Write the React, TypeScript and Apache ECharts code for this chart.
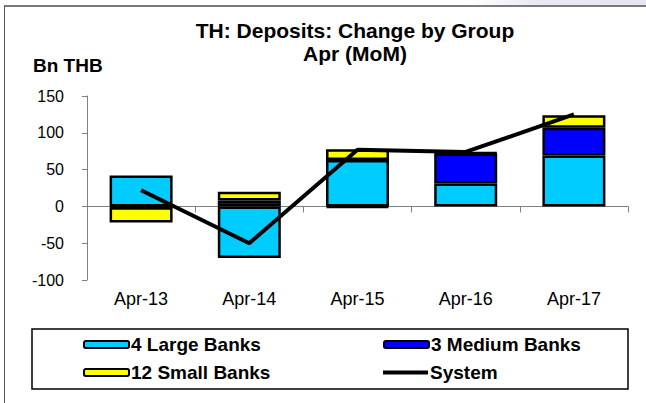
import React, { useEffect, useRef } from "react";
import * as echarts from "echarts";

const categories = ["Apr-13", "Apr-14", "Apr-15", "Apr-16", "Apr-17"];
const largeBanks = [42, -70, 63, 31, 69];
const mediumBanks = [-1, 8, -1.5, 41, 38];
const smallBanks = [-21, 12, 14.5, 1, 17];
const systemTotal = [22, -50, 77, 74, 125];
const titleLines = ["TH: Deposits: Change by Group", "Apr (MoM)"];
const unitLabel = "Bn THB";

const FONT = "'Liberation Sans', Arial, sans-serif";

export default function App() {
  const ref = useRef<HTMLDivElement>(null);
  useEffect(() => {
    if (!ref.current) return;
    const chart = echarts.init(ref.current, undefined, { renderer: "svg" });
    const barBorder = { borderColor: "#000", borderWidth: 2.5 };
    const legendBase = {
      padding: 0,
      itemWidth: 45,
      itemHeight: 7,
      itemGap: 2,
      textStyle: { fontFamily: FONT, fontWeight: "bold", fontSize: 19, color: "#000", padding: [0, 0, 0, -3] },
    };
    chart.setOption({
      animation: false,
      backgroundColor: "#fff",
      textStyle: { fontFamily: FONT },
      grid: { left: 87, right: 18, top: 96, height: 184 },
      xAxis: [
        {
          type: "category",
          data: categories,
          position: "bottom",
          axisLine: { onZero: true, lineStyle: { color: "#808080", width: 1 } },
          axisTick: { show: true, interval: 0, length: 6, lineStyle: { color: "#808080" } },
          axisLabel: { show: false },
          splitLine: { show: false },
        },
        {
          type: "category",
          data: categories,
          position: "bottom",
          offset: 0,
          axisLine: { show: false, onZero: false },
          axisTick: { show: false },
          axisLabel: { show: true, color: "#000", fontSize: 18, fontFamily: FONT, margin: 10 },
          splitLine: { show: false },
        },
      ],
      yAxis: {
        type: "value",
        min: -100,
        max: 150,
        interval: 50,
        axisLine: { show: true, lineStyle: { color: "#808080", width: 1 } },
        axisTick: { show: true, length: 5, lineStyle: { color: "#808080" } },
        axisLabel: { color: "#000", fontSize: 16, fontFamily: FONT, margin: 23 },
        splitLine: { show: false },
      },
      legend: [
        { ...legendBase, left: 83, top: 335, data: ["4 Large Banks"] },
        { ...legendBase, left: 383, top: 335, data: ["3 Medium Banks"] },
        { ...legendBase, left: 83, top: 363, data: ["12 Small Banks"] },
        { ...legendBase, left: 383, top: 363, itemHeight: 4, data: [{ name: "System", icon: "rect" }] },
      ],
      graphic: [
        {
          type: "rect",
          shape: { x: 470, y: 0, width: 176, height: 5 },
          style: {
            fill: new echarts.graphic.LinearGradient(0, 0, 1, 0, [
              { offset: 0, color: "#ffffff" },
              { offset: 0.4, color: "#e8e8f2" },
              { offset: 1, color: "#e6e6f0" },
            ]),
          },
          silent: true,
        },
        { type: "line", shape: { x1: 4, y1: 6, x2: 646, y2: 6 }, style: { stroke: "#7a7a7a", lineWidth: 2 }, silent: true },
        { type: "line", shape: { x1: 4.5, y1: 6, x2: 4.5, y2: 403 }, style: { stroke: "#555", lineWidth: 1 }, silent: true },
        {
          type: "rect",
          shape: { x: 32, y: 329, width: 596, height: 60 },
          style: { fill: "none", stroke: "#000", lineWidth: 1.5 },
          silent: true,
        },
        {
          type: "text",
          x: 355,
          y: 30,
          style: {
            text: titleLines[0],
            fontFamily: FONT,
            fontWeight: "bold",
            fontSize: 21,
            fill: "#000",
            textAlign: "center",
            textVerticalAlign: "middle",
          },
        },
        {
          type: "text",
          x: 355,
          y: 53,
          style: {
            text: titleLines[1],
            fontFamily: FONT,
            fontWeight: "bold",
            fontSize: 21,
            fill: "#000",
            textAlign: "center",
            textVerticalAlign: "middle",
          },
        },
        {
          type: "text",
          x: 33,
          y: 65,
          style: {
            text: unitLabel,
            fontFamily: FONT,
            fontWeight: "bold",
            fontSize: 19,
            fill: "#000",
            textAlign: "left",
            textVerticalAlign: "middle",
          },
        },
      ],
      series: [
        {
          name: "4 Large Banks",
          type: "bar",
          stack: "g",
          barWidth: 63,
          data: largeBanks,
          itemStyle: { color: "#00CCFF", ...barBorder },
        },
        {
          name: "3 Medium Banks",
          type: "bar",
          stack: "g",
          barWidth: 63,
          data: mediumBanks,
          itemStyle: { color: "#0000FF", ...barBorder },
        },
        {
          name: "12 Small Banks",
          type: "bar",
          stack: "g",
          barWidth: 63,
          data: smallBanks,
          itemStyle: { color: "#FFFF00", ...barBorder },
        },
        {
          name: "System",
          type: "line",
          data: systemTotal,
          symbol: "none",
          z: 5,
          lineStyle: { color: "#000", width: 4 },
          itemStyle: { color: "#000" },
        },
      ],
    });
    return () => chart.dispose();
  }, []);
  return <div ref={ref} style={{ position: "fixed", left: 0, top: 0, width: 646, height: 403 }} />;
}
